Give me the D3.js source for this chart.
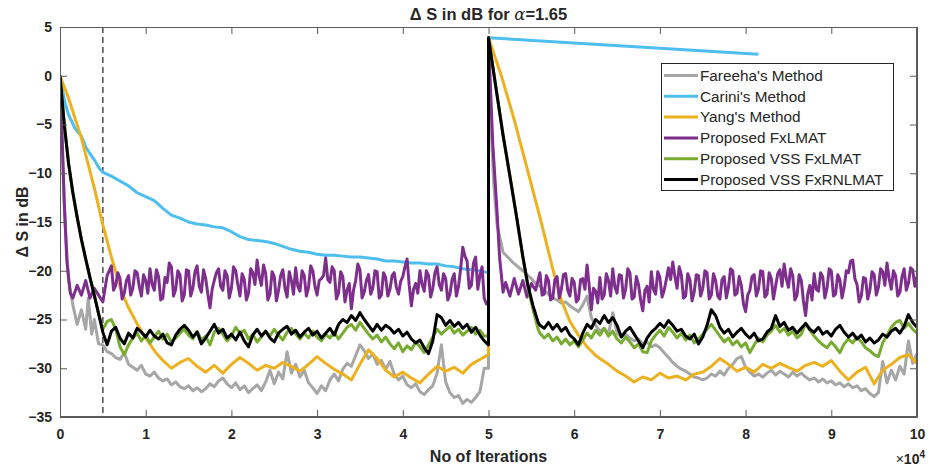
<!DOCTYPE html>
<html><head><meta charset="utf-8">
<script src="https://cdn.jsdelivr.net/npm/d3@7"></script>
<style>
body{margin:0;background:#fff}
svg{display:block}
text{font-family:"Liberation Sans",Arial,Helvetica,sans-serif;fill:#262626}
</style>
</head><body>
<svg id="chart" width="928" height="468"></svg>
<script>
// ---------- DATA (iterations in units of 1e4, values in dB) ----------
const seriesNames = ["Fareeha's Method","Carini's Method","Yang's Method","Proposed FxLMAT","Proposed VSS FxLMAT","Proposed VSS FxRNLMAT"];
const xTickValues = [0,1,2,3,4,5,6,7,8,9,10];
const yTickValues = [5,0,-5,-10,-15,-20,-25,-30,-35];
const dashedLineAt = 0.5;

// Carini (explicit points)
const cariniPts = [[0,0],[0.05,-2.5],[0.1,-4.0],[0.175,-5.4],[0.25,-6.2],[0.3,-7.3],[0.35,-8.0],[0.4,-8.6],[0.45,-9.4],[0.5,-9.9],
 [0.6,-10.3],[0.7,-10.8],[0.8,-11.3],[0.9,-12.0],[1.0,-12.4],[1.1,-12.8],[1.2,-13.6],[1.3,-14.3],[1.4,-14.6],[1.5,-15.0],
 [1.6,-15.2],[1.7,-15.3],[1.8,-15.5],[1.9,-15.6],[2.0,-16.0],[2.1,-16.5],[2.2,-16.8],[2.3,-16.9],[2.4,-17.0],[2.5,-17.2],
 [2.6,-17.5],[2.7,-17.8],[2.8,-18.0],[2.9,-18.1],[3.0,-18.3],[3.1,-18.4],[3.2,-18.4],[3.3,-18.5],[3.4,-18.6],[3.5,-18.6],
 [3.6,-18.7],[3.7,-18.8],[3.8,-19.0],[3.9,-19.0],[4.0,-19.1],[4.1,-19.2],[4.2,-19.2],[4.3,-19.3],[4.4,-19.3],[4.5,-19.5],
 [4.6,-19.6],[4.7,-19.8],[4.8,-19.9],[4.9,-20.0],[5.0,-20.2],[5.0,3.9],[8.15,2.2]];

// Fareeha
const fareehaHead1 = [[0,0],[0.02,-5],[0.04,-11],[0.06,-15.3],[0.1,-21],[0.15,-23.5],[0.2,-25.5],[0.25,-24.0],[0.3,-26.0],[0.33,-22.8],[0.37,-26.5],[0.4,-25.0],[0.45,-27.5],[0.5,-27.6],[0.55,-28.3]];
const fareehaTail1 = [
 -28.5,-28.9,-29.1,-28.4,-29.6,-29.9,-30.2,-29.7,-30.6,-30.8,
 -30.4,-31.0,-31.3,-31.1,-31.7,-31.4,-31.9,-32.1,-31.8,-32.3,
 -32.0,-32.4,-32.1,-31.6,-31.9,-31.3,-31.0,-31.6,-32.0,-31.5,
 -32.2,-31.8,-32.5,-32.1,-31.7,-32.3,-31.4,-30.2,-31.6,-30.4,
 -31.1,-28.3,-30.5,-29.6,-30.9,-30.2,-31.5,-32.0,-32.6,-31.8,
 -32.3,-31.2,-30.6,-31.3,-30.1,-29.5,-29.8,-28.7,-27.6,-28.2,
 -29.0,-28.5,-29.6,-29.2,-30.1,-29.3,-30.6,-31.2,-30.8,-31.7,
 -32.0,-31.6,-32.4,-32.7,-32.2,-31.8,-30.5,-27.6,-31.4,-32.5,
 -33.0,-32.8,-33.6,-33.2,-33.5,-33.0,-32.4,-30.0];
const fareehaHead2 = [[5.0,-30.0],[5.0,3.9],[5.03,-5],[5.06,-11],[5.1,-15.3],[5.17,-18.1],[5.29,-19.2],[5.4,-20.0],[5.5,-20.8],[5.55,-21.3]];
const fareehaTail2 = [
 -21.6,-22.0,-22.4,-22.8,-23.0,-23.3,-23.2,-23.6,-23.9,-24.2,
 -23.5,-22.6,-24.8,-25.6,-26.2,-25.9,-26.5,-24.3,-26.4,-26.8,
 -26.5,-26.9,-27.2,-27.0,-27.5,-27.3,-27.8,-27.6,-27.9,-28.4,
 -28.9,-29.4,-29.8,-30.1,-30.3,-30.6,-30.9,-31.0,-31.2,-31.0,
 -30.6,-30.8,-30.3,-30.7,-30.0,-29.6,-29.0,-28.8,-29.9,-30.4,
 -30.8,-30.6,-30.9,-30.5,-30.2,-30.7,-30.3,-30.6,-30.9,-30.4,
 -30.8,-30.5,-30.9,-31.2,-31.0,-31.4,-31.1,-31.5,-31.3,-31.7,
 -31.5,-31.9,-31.6,-32.0,-31.8,-32.3,-32.1,-32.6,-32.9,-32.5,
 -29.3,-31.5,-30.2,-31.2,-29.8,-30.6,-27.2,-29.5,-28.5];

// Yang
const yangHead1 = [[0,0],[0.1,-2.3],[0.25,-6.4],[0.4,-11.5],[0.5,-15.3],[0.6,-18.6],[0.72,-22.2],[0.8,-23.8],[0.91,-25.6],[1.0,-26.9],[1.11,-28.3],[1.2,-29.2],[1.3,-30.0]];
const yangTail1 = [
 -29.4,-29.0,-29.8,-30.4,-29.7,-30.5,-29.6,-28.9,-29.5,-30.2,
 -29.7,-30.0,-29.4,-29.8,-30.3,-29.6,-28.8,-29.5,-30.1,-30.6,
 -31.2,-29.6,-28.1,-29.0,-30.2,-30.9,-30.4,-31.0,-31.5,-30.6,
 -29.8,-30.3,-29.9,-30.5,-29.6,-29.1];
const yangHead2 = [[5.0,-28.6],[5.0,3.9],[5.15,0.0],[5.3,-4.5],[5.45,-9.5],[5.6,-14.5],[5.75,-19.8],[5.85,-23.0],[5.95,-25.2],[6.05,-26.6],[6.15,-27.8],[6.25,-28.7],[6.35,-29.3]];
const yangTail2 = [
 -29.6,-30.3,-30.8,-31.4,-30.9,-31.2,-30.5,-31.0,-30.8,-31.2,
 -30.6,-30.4,-29.8,-29.0,-29.6,-30.3,-29.9,-30.4,-29.6,-30.0,
 -29.5,-29.9,-30.3,-29.7,-29.4,-29.8,-29.2,-30.3,-31.2,-30.4,
 -29.9,-31.6,-30.2,-29.6,-28.9,-28.6,-29.5];

// Proposed FxLMAT (main samples + in-between samples)
const fxlmatHead1 = [[0,0],[0.02,-5],[0.05,-13],[0.08,-19],[0.12,-22.3],[0.15,-22.8],[0.2,-21.5],[0.25,-22.5],[0.3,-21.0],[0.35,-22.8],[0.4,-21.8],[0.45,-22.5],[0.5,-23.2],[0.55,-20.5]];
const fxlmatTail1 = [
 -19.5,-21.5,-20.8,-22.3,-20.5,-21.8,-20.2,-22.6,-21.0,-19.8,
 -22.0,-20.6,-22.8,-21.2,-19.6,-21.9,-20.4,-22.5,-20.0,-21.8,
 -19.5,-22.2,-20.8,-23.8,-21.0,-19.8,-22.0,-20.5,-21.8,-20.0,
 -22.6,-20.9,-22.3,-20.2,-18.9,-21.5,-20.3,-22.4,-20.6,-22.0,
 -19.9,-22.7,-21.0,-19.7,-22.1,-20.5,-21.7,-20.0,-22.5,-20.8,
 -18.7,-21.2,-20.0,-22.3,-20.6,-22.0,-23.9,-21.0,-19.9,-22.2,
 -20.4,-21.8,-20.1,-22.5,-20.7,-21.9,-20.2,-22.4,-20.6,-18.8,
 -23.6,-21.3,-20.0,-22.1,-20.5,-21.8,-19.6,-22.0,-20.8,-22.4,
 -20.3,-21.6,-17.6,-19.0,-21.5,-18.6,-20.5,-22.8];
const fxlmatMid1 = [
 -22.0,-20.2,-22.9,-21.0,-22.5,-20.0,-21.6,-20.4,-22.3,-21.4,
 -19.9,-23.0,-20.7,-19.2,-22.6,-20.0,-23.1,-19.9,-22.6,-20.1,
 -21.6,-19.9,-22.4,-21.9,-20.2,-21.6,-20.0,-22.8,-19.6,-21.4,
 -20.3,-23.0,-19.8,-21.4,-20.6,-19.4,-23.0,-20.1,-23.1,-20.5,
 -21.8,-20.1,-22.4,-21.6,-20.0,-22.6,-19.5,-21.6,-21.0,-20.5,
 -20.9,-19.6,-22.9,-20.1,-23.2,-21.3,-22.0,-19.3,-22.8,-21.0,
 -22.4,-20.0,-22.8,-20.2,-22.6,-20.5,-21.7,-21.1,-19.6,-21.5,
 -21.9,-22.3,-21.4,-20.0,-22.7,-20.2,-21.4,-20.3,-23.0,-20.9,
 -22.6,-19.8,-18.5,-21.8,-19.2,-21.9,-19.6,-23.4];
const fxlmatHead2 = [[5.0,-23.5],[5.0,3.9],[5.05,-7],[5.1,-14],[5.13,-18.7],[5.17,-22.2],[5.2,-21.2],[5.25,-22.6],[5.3,-20.8],[5.35,-22.4],[5.4,-21.0],[5.45,-22.7],[5.5,-21.3],[5.55,-22.0]];
const fxlmatTail2 = [
 -20.2,-22.4,-21.0,-22.8,-20.6,-21.9,-20.3,-22.6,-21.2,-22.9,
 -20.8,-19.4,-24.0,-22.1,-20.7,-22.5,-21.0,-19.8,-22.3,-20.5,
 -21.9,-20.2,-22.7,-21.4,-24.1,-21.6,-20.1,-22.4,-20.7,-22.0,
 -19.7,-19.1,-21.8,-20.4,-22.6,-20.9,-22.2,-20.5,-21.8,-20.2,
 -22.5,-21.0,-22.9,-20.6,-21.7,-20.0,-22.3,-21.5,-24.2,-22.0,
 -20.4,-21.9,-20.1,-22.4,-20.8,-21.6,-19.9,-19.3,-21.7,-20.5,
 -22.5,-21.0,-24.6,-21.5,-20.3,-22.1,-20.6,-21.8,-20.0,-22.4,
 -20.9,-21.7,-20.2,-18.9,-21.4,-22.6,-20.8,-22.0,-20.4,-21.7,
 -20.1,-19.2,-21.9,-20.5,-22.2,-19.8,-21.3,-19.9,-20.6];
const fxlmatMid2 = [
 -22.5,-20.5,-23.0,-20.9,-22.8,-20.4,-22.0,-20.8,-23.2,-20.9,
 -21.9,-21.5,-21.8,-23.3,-22.9,-20.3,-22.6,-21.7,-20.4,-22.8,
 -19.8,-22.9,-20.6,-23.0,-22.0,-23.2,-21.9,-20.1,-22.7,-20.9,
 -20.9,-20.6,-19.6,-22.8,-20.3,-23.1,-20.4,-22.6,-20.0,-22.9,
 -20.3,-22.6,-20.9,-22.8,-19.8,-22.5,-20.6,-23.4,-22.5,-20.6,
 -22.6,-20.0,-22.7,-20.2,-22.9,-20.3,-21.6,-20.8,-19.8,-23.0,
 -20.4,-23.1,-22.4,-23.0,-21.9,-20.2,-22.8,-19.8,-22.6,-20.4,
 -22.8,-20.0,-19.0,-20.8,-23.2,-20.7,-22.9,-20.1,-22.5,-19.8,
 -21.5,-20.8,-20.0,-22.6,-20.6,-22.0,-19.7,-21.6];

// Proposed VSS FxLMAT
const vssHead1 = [[0,0],[0.05,-5],[0.1,-9],[0.15,-12],[0.2,-14.5],[0.25,-16.8],[0.3,-18.8],[0.35,-20.7],[0.4,-22.5],[0.45,-24.4],[0.5,-26.0],[0.55,-25.2]];
const vssTail1 = [
 -25.0,-26.0,-27.8,-28.6,-27.6,-26.9,-26.4,-27.2,-26.6,-27.4,
 -26.8,-26.2,-27.0,-26.5,-27.3,-26.9,-26.4,-26.0,-26.6,-27.0,
 -26.2,-27.1,-26.7,-27.6,-26.3,-25.9,-26.5,-27.2,-26.7,-25.8,
 -26.4,-26.1,-27.0,-26.5,-27.3,-26.8,-26.2,-26.7,-26.0,-26.6,
 -27.1,-26.3,-25.9,-26.5,-27.0,-26.4,-26.9,-26.2,-26.8,-27.2,
 -26.5,-26.9,-26.3,-27.0,-26.4,-25.8,-25.5,-26.1,-25.3,-25.9,
 -26.5,-27.0,-26.6,-27.3,-26.8,-27.5,-28.0,-27.4,-28.3,-27.7,
 -28.1,-27.3,-27.8,-28.4,-27.6,-26.8,-26.0,-26.5,-26.1,-25.7,
 -26.4,-26.0,-26.6,-26.2,-25.8,-26.5,-26.1,-26.7];
const vssHead2 = [[5.0,-26.7],[5.0,3.9],[5.1,-2.0],[5.17,-6.1],[5.25,-10.3],[5.33,-14.6],[5.4,-18.6],[5.46,-21.7],[5.52,-24.0],[5.58,-26.0]];
const vssTail2 = [
 -26.4,-26.9,-26.5,-27.2,-26.8,-27.5,-27.0,-27.6,-27.2,-27.8,
 -27.1,-26.4,-26.9,-26.1,-26.6,-25.9,-26.7,-26.2,-27.0,-27.4,
 -26.8,-27.3,-27.9,-27.5,-28.3,-28.4,-27.2,-26.6,-26.1,-26.7,
 -25.8,-26.3,-26.9,-26.4,-27.1,-26.6,-27.4,-27.0,-26.5,-26.0,
 -25.5,-26.1,-26.7,-27.3,-26.9,-27.6,-27.2,-27.8,-27.4,-28.4,
 -27.6,-26.9,-27.3,-26.6,-26.2,-25.6,-26.3,-25.9,-26.6,-26.2,
 -26.9,-26.5,-25.4,-26.1,-26.7,-27.2,-27.6,-27.9,-27.3,-27.8,
 -28.4,-27.5,-27.0,-27.4,-26.8,-27.3,-27.9,-28.2,-28.6,-28.8,
 -27.4,-26.6,-25.8,-25.3,-25.1,-25.9,-25.4,-26.0,-26.4];

// Proposed VSS FxRNLMAT
const rnlHead1 = [[0,0],[0.05,-5],[0.1,-9],[0.15,-12],[0.2,-14.5],[0.25,-16.8],[0.3,-18.8],[0.35,-20.7],[0.4,-22.5],[0.45,-24.4],[0.5,-26.3],[0.55,-27.6]];
const rnlTail1 = [
 -26.2,-25.8,-26.9,-27.5,-26.4,-26.9,-25.9,-26.3,-26.8,-26.1,
 -26.7,-27.0,-26.5,-27.4,-27.6,-26.6,-26.0,-25.6,-26.1,-26.8,
 -26.3,-27.5,-26.9,-26.2,-25.5,-26.4,-26.0,-26.9,-26.5,-27.1,
 -26.3,-27.2,-27.8,-26.6,-26.0,-26.7,-26.2,-26.9,-27.3,-26.4,
 -26.0,-25.7,-26.5,-26.1,-26.8,-26.3,-25.9,-26.6,-26.2,-26.9,
 -26.4,-25.9,-26.6,-25.5,-25.0,-25.3,-24.6,-25.1,-24.3,-25.0,
 -25.6,-26.2,-25.5,-26.1,-25.6,-25.9,-26.4,-26.0,-26.7,-26.3,
 -27.0,-27.4,-27.1,-27.9,-28.5,-27.2,-24.5,-24.8,-25.6,-25.1,
 -25.7,-25.3,-25.9,-25.5,-26.3,-25.8,-26.6,-27.2];
const rnlHead2 = [[5.0,-27.6],[5.0,3.9],[5.1,-2.0],[5.17,-6.1],[5.25,-10.3],[5.33,-14.6],[5.4,-18.5],[5.46,-21.5],[5.52,-23.6],[5.58,-25.3]];
const rnlTail2 = [
 -25.6,-25.9,-25.3,-26.0,-25.5,-26.2,-25.8,-26.6,-27.0,-27.6,
 -26.4,-25.5,-25.9,-25.0,-25.4,-24.6,-25.3,-24.8,-25.6,-26.8,
 -26.2,-25.8,-26.5,-27.2,-27.9,-26.9,-26.3,-25.9,-25.4,-25.8,
 -25.1,-25.6,-26.2,-26.0,-26.7,-27.0,-26.5,-27.5,-26.8,-25.6,
 -24.0,-24.6,-25.8,-26.4,-26.0,-26.8,-26.3,-25.9,-26.5,-26.9,
 -26.4,-27.2,-27.0,-26.3,-25.9,-24.6,-25.7,-25.3,-26.1,-25.8,
 -26.4,-25.9,-25.4,-26.0,-26.3,-25.8,-26.5,-26.2,-26.7,-26.0,
 -25.6,-26.3,-26.8,-26.4,-27.0,-26.6,-27.3,-26.9,-27.4,-27.1,
 -26.5,-26.8,-26.2,-25.9,-26.4,-25.7,-24.5,-25.3,-25.8];

// grid descriptions for the uniformly sampled tails: [start, step]
const fineGrid1 = [0.6, 0.05], fineGrid2 = [5.6, 0.05];
const midGrid1 = [0.625, 0.05], midGrid2 = [5.625, 0.05];
const yangGrid1 = [1.4, 0.1], yangGrid2 = [6.4, 0.1];

// ---------- STYLE ----------
const seriesColors = ["#a6a6a6","#4dbeee","#edb120","#7e2f8e","#77ac30","#000000"];
const W = 928, H = 468;
const M = {left:60, right:11, top:27, bottom:51};
const axisColor = "#5a5a5a";

function grid(vals, g){ return vals.map((v,i)=>[+(g[0]+i*g[1]).toFixed(4), v]); }
function build(h1,t1,g1,h2,t2,g2){ return [].concat(h1, grid(t1,g1), h2, grid(t2,g2)); }
function merged(t,g,m,mg){ return grid(t,g).concat(grid(m,mg)).sort((a,b)=>a[0]-b[0]); }

const seriesData = [
  build(fareehaHead1,fareehaTail1,fineGrid1,fareehaHead2,fareehaTail2,fineGrid2),
  cariniPts,
  build(yangHead1,yangTail1,yangGrid1,yangHead2,yangTail2,yangGrid2),
  [].concat(fxlmatHead1, merged(fxlmatTail1,fineGrid1,fxlmatMid1,midGrid1), fxlmatHead2, merged(fxlmatTail2,fineGrid2,fxlmatMid2,midGrid2)),
  build(vssHead1,vssTail1,fineGrid1,vssHead2,vssTail2,fineGrid2),
  build(rnlHead1,rnlTail1,fineGrid1,rnlHead2,rnlTail2,fineGrid2)
];

const svg = d3.select("#chart");
const x = d3.scaleLinear().domain([0,10]).range([M.left, W-M.right]);
const y = d3.scaleLinear().domain([-35,5]).range([H-M.bottom, M.top]);

svg.append("defs").append("clipPath").attr("id","clip")
  .append("rect").attr("x",M.left).attr("y",M.top).attr("width",W-M.left-M.right).attr("height",H-M.top-M.bottom);

// dashed line
svg.append("line")
  .attr("x1",x(dashedLineAt)).attr("x2",x(dashedLineAt))
  .attr("y1",y(5)).attr("y2",y(-35))
  .attr("stroke","#404040").attr("stroke-width",1.4).attr("stroke-dasharray","6,4");

const line = d3.line().x(d=>x(d[0])).y(d=>y(d[1]));
svg.append("g").attr("clip-path","url(#clip)")
  .selectAll("path").data(seriesData).join("path")
  .attr("d",line).attr("fill","none")
  .attr("stroke",(d,i)=>seriesColors[i])
  .attr("stroke-width",3).attr("stroke-linejoin","round").attr("stroke-linecap","butt");

// axes
const tickLen = 7;
const gx = svg.append("g").attr("transform",`translate(0,${H-M.bottom})`)
  .call(d3.axisBottom(x).tickValues(xTickValues).tickFormat(d3.format("d")).tickSizeInner(-tickLen).tickSizeOuter(0).tickPadding(12));
const gy = svg.append("g").attr("transform",`translate(${M.left},0)`)
  .call(d3.axisLeft(y).tickValues(yTickValues).tickFormat(d3.format("d")).tickSizeInner(-tickLen).tickSizeOuter(0).tickPadding(8));
const gt = svg.append("g").attr("transform",`translate(0,${M.top})`)
  .call(d3.axisTop(x).tickValues(xTickValues).tickFormat("").tickSizeInner(-tickLen).tickSizeOuter(0));
const gr = svg.append("g").attr("transform",`translate(${W-M.right},0)`)
  .call(d3.axisRight(y).tickValues(yTickValues).tickFormat("").tickSizeInner(-tickLen).tickSizeOuter(0));
[gx,gy,gt,gr].forEach(g=>{
  g.selectAll(".domain").attr("stroke",axisColor);
  g.selectAll(".tick line").attr("stroke",axisColor);
  g.selectAll(".tick text").attr("font-size","14px").attr("font-weight","bold").attr("fill","#262626")
    .attr("font-family","'Liberation Sans',Arial,sans-serif");
});

// frame
svg.append("rect").attr("x",M.left+0.5).attr("y",M.top+0.5)
  .attr("width",W-M.left-M.right-1).attr("height",H-M.top-M.bottom-1)
  .attr("fill","none").attr("stroke",axisColor).attr("stroke-width",1);

// title
const title = svg.append("text").attr("x",(M.left+W-M.right)/2).attr("y",20)
  .attr("text-anchor","middle").attr("font-size","16.5px").attr("font-weight","bold").attr("fill","#000");
title.append("tspan").text("\u0394 S in dB for ");
title.append("tspan").text("\u03b1").attr("font-family","'DejaVu Serif','Liberation Serif',serif").attr("font-style","italic").attr("font-weight","normal");
title.append("tspan").text("=1.65");

// axis labels
svg.append("text").attr("x",(M.left+W-M.right)/2).attr("y",462)
  .attr("text-anchor","middle").attr("font-size","16px").attr("font-weight","bold").text("No of Iterations");
svg.append("text").attr("transform",`translate(28,${(M.top+H-M.bottom)/2}) rotate(-90)`)
  .attr("text-anchor","middle").attr("font-size","16px").attr("font-weight","bold").text("\u0394 S in dB");
const ex = svg.append("text").attr("x",W-3).attr("y",464).attr("text-anchor","end").attr("font-size","14px");
ex.append("tspan").text("\u00d7");
ex.append("tspan").text("10").attr("font-weight","bold");
ex.append("tspan").text("4").attr("font-size","10px").attr("font-weight","bold").attr("dy","-6");

// legend
const lg = svg.append("g");
const lgX = 661, lgY = 63, lgW = 232, lgH = 127, rowH = 20.8;
lg.append("rect").attr("x",lgX+0.5).attr("y",lgY+0.5).attr("width",lgW).attr("height",lgH)
  .attr("fill","#fff").attr("stroke","#262626").attr("stroke-width",1);
seriesNames.forEach((n,i)=>{
  const cy = lgY + 12.5 + i*rowH;
  lg.append("line").attr("x1",lgX+3).attr("x2",lgX+37).attr("y1",cy).attr("y2",cy)
    .attr("stroke",seriesColors[i]).attr("stroke-width",3);
  lg.append("text").attr("x",lgX+39).attr("y",cy+5.3).attr("font-size","15.3px").attr("fill","#000").text(n);
});
</script>
</body></html>
